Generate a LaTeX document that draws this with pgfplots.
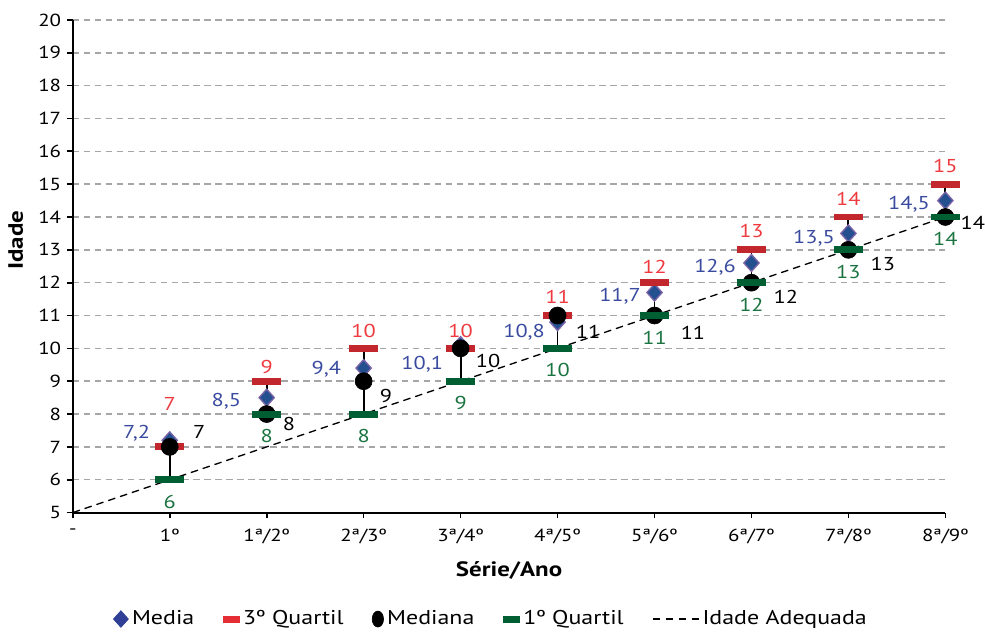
\documentclass[border=0pt]{standalone}
\usepackage{pgfplots}
\pgfplotsset{compat=1.18}
\usepackage{pgfplotstable}
\usepackage{fontspec}
\setmainfont{PT Sans}[FakeStretch=1.2]

\definecolor{mediafill}{HTML}{24508F}
\definecolor{mediadraw}{HTML}{7B63A8}
\definecolor{mediatext}{HTML}{3A4B9F}
\definecolor{qthree}{HTML}{C1272D}
\definecolor{qthreetext}{HTML}{EE3A3F}
\definecolor{qthreeleg}{HTML}{E52D35}
\definecolor{qone}{HTML}{005E33}
\definecolor{qonetext}{HTML}{1A7340}
\definecolor{legblue}{HTML}{2E3F95}
\definecolor{gridgray}{HTML}{A6A6A6}

\pgfplotstableread{
x y    lab
1 7.2  7,2
2 8.5  8,5
3 9.4  9,4
4 10.1 10,1
5 10.8 10,8
6 11.7 11,7
7 12.6 12,6
8 13.5 13,5
9 14.5 14,5
}\media

\pgfplotstableread{
x y  lab
1 7  7
2 9  9
3 10 10
4 10 10
5 11 11
6 12 12
7 13 13
8 14 14
9 15 15
}\qtres

\pgfplotstableread{
x y  lab
1 7  7
2 8  8
3 9  9
4 10 10
5 11 11
6 11 11
7 12 12
8 13 13
9 14 14
}\mediana

\pgfplotstableread{
x y  lab
1 6  6
2 8  8
3 8  8
4 9  9
5 10 10
6 11 11
7 12 12
8 13 13
9 14 14
}\qum

% label offsets in px, indexed by category (0..9); dy positive = up
\def\mediadx{{0,-19,-25,-22,-17,-12,-13,-15,-13,-15}}
\def\mediady{{0,7,-4,-1,-19,-10,-4,-4,-5,-4}}
\def\qtresdy{{0,43,14,17,17,19,16,19,18,18}}
\def\mediandx{{0,23,16,16,15,18,26,22,22,15}}
\def\mediandy{{0,15,-10,-15,-13,-16,-17,-14,-14,-6}}

\newcommand{\lblfont}{\fontsize{11.2}{13}\selectfont}

\begin{document}
\begin{tikzpicture}
\begin{axis}[
  scale only axis,
  width=525pt, height=296.4pt,
  xmin=0, xmax=9, ymin=5, ymax=20,
  clip=false,
  axis x line*=bottom, axis y line*=left,
  axis line style={black, line width=1.2pt},
  xtick={0,...,9},
  xticklabels={-, 1º, 1ª/2º, 2ª/3º, 3ª/4º, 4ª/5º, 5ª/6º, 6ª/7º, 7ª/8º, 8ª/9º},
  ytick={5,...,20},
  ymajorgrids,
  major grid style={gridgray, line width=0.9pt, dash pattern=on 3.9pt off 2.7pt},
  tick align=outside, major tick length=3.5pt,
  tick style={black, line width=1pt},
  tick label style={font=\fontsize{10.5}{12}\selectfont},
  xticklabel style={yshift=-3pt},
  /pgf/number format/assume math mode=true,
  xlabel={Série/Ano}, ylabel={Idade},
  label style={font=\fontsize{12.5}{14}\selectfont\bfseries},
  xlabel style={yshift=-3.5pt},
  ylabel style={at={(rel axis cs:-0.05,0.553)}, anchor=south},
  legend columns=5,
  legend style={draw=none, fill=none, at={(0.48,-0.185)}, anchor=north,
    font=\fontsize{12}{14}\selectfont,
    /tikz/every even column/.append style={column sep=15pt}},
  legend cell align=left,
]
% linhas entre quartis
\addplot[black, line width=1.1pt, forget plot, unbounded coords=jump] coordinates {
  (1,6) (1,7.2) (1,nan)
  (2,8) (2,9) (2,nan)
  (3,8) (3,10) (3,nan)
  (4,9) (4,10.1) (4,nan)
  (5,10) (5,11) (5,nan)
  (6,11) (6,12) (6,nan)
  (7,12) (7,13) (7,nan)
  (8,13) (8,14) (8,nan)
  (9,14) (9,15)
};

\addplot[only marks, mark=diamond*, mark size=5.1pt,
  mark options={fill=mediafill, draw=mediadraw, line width=0.8pt, xscale=1.2},
  legend image code/.code={\fill[legblue] (4.5pt,5pt) -- (9pt,0pt) -- (4.5pt,-5pt) -- (0pt,0pt) -- cycle;},
  point meta=explicit symbolic, nodes near coords,
  visualization depends on={x \as \xi},
  every node near coord/.append style={anchor=east, inner sep=0pt, text=mediatext,
    font=\lblfont,
    xshift={\mediadx[int(\xi)]*0.6pt}, yshift={\mediady[int(\xi)]*0.6pt}},
] table[x=x, y=y, meta=lab] {\media};

\addplot[only marks, mark=-, mark size=8.6pt,
  mark options={draw=qthree, line width=4.2pt},
  legend image code/.code={\fill[qthreeleg] (0pt,-1.8pt) rectangle (10pt,1.8pt);},
  point meta=explicit symbolic, nodes near coords,
  visualization depends on={x \as \xi},
  every node near coord/.append style={anchor=center, inner sep=0pt, text=qthreetext,
    font=\lblfont, yshift={\qtresdy[int(\xi)]*0.6pt}},
] table[x=x, y=y, meta=lab] {\qtres};

\addplot[only marks, mark=*, mark size=5.1pt,
  mark options={fill=black, draw=black},
  legend image code/.code={\fill[black] (3.6pt,0pt) ellipse (3.4pt and 4.8pt);},
  point meta=explicit symbolic, nodes near coords,
  visualization depends on={x \as \xi},
  every node near coord/.append style={anchor=west, inner sep=0pt, text=black,
    font=\lblfont,
    xshift={\mediandx[int(\xi)]*0.6pt}, yshift={\mediandy[int(\xi)]*0.6pt}},
] table[x=x, y=y, meta=lab] {\mediana};

\addplot[only marks, mark=-, mark size=8.6pt,
  mark options={draw=qone, line width=4.2pt},
  legend image code/.code={\fill[qone] (0pt,-1.8pt) rectangle (10pt,1.8pt);},
  point meta=explicit symbolic, nodes near coords,
  every node near coord/.append style={anchor=center, inner sep=0pt, text=qonetext,
    font=\lblfont, yshift=-13.2pt},
] table[x=x, y=y, meta=lab] {\qum};

\addplot[black, line width=0.8pt, dash pattern=on 4.5pt off 3pt,
  legend image code/.code={\draw[black, line width=0.8pt, dash pattern=on 4.2pt off 3.6pt] (0pt,0pt) -- (27.6pt,0pt);},
] coordinates {(0,5) (9,14)};

\legend{Media, 3º Quartil, Mediana, 1º Quartil, Idade Adequada}

\path (rel axis cs:-0.0834,-0.2389) rectangle (rel axis cs:1.0423,1.0405);
\end{axis}
\end{tikzpicture}
\end{document}
